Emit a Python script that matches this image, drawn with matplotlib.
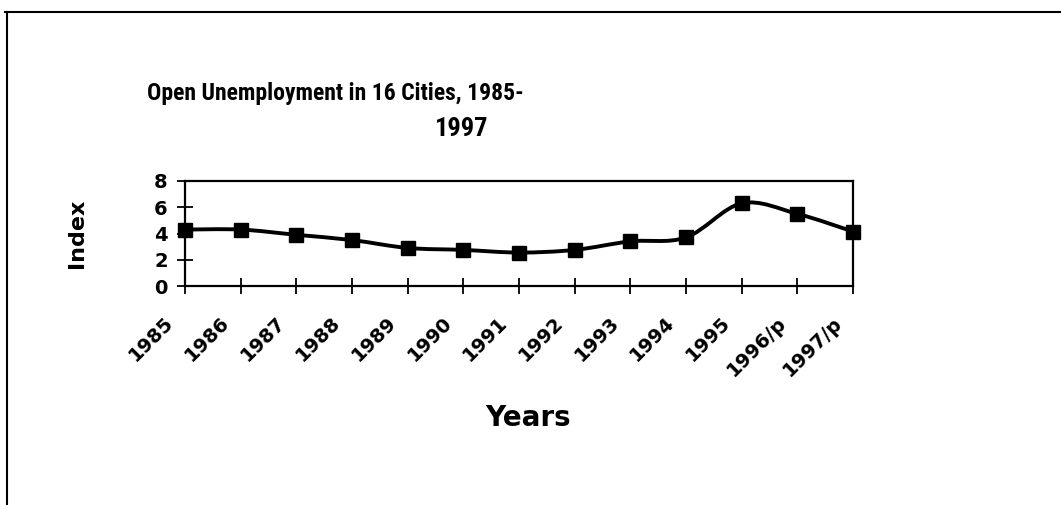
import numpy as np
import matplotlib
matplotlib.use("Agg")
import matplotlib.pyplot as plt
from matplotlib.path import Path
from matplotlib.patches import PathPatch
from matplotlib.lines import Line2D
from matplotlib.transforms import ScaledTranslation

plt.rcParams['font.family'] = ['DejaVu Sans']
plt.rcParams['font.weight'] = 'bold'
TITLE_FONT = ['Roboto Condensed', 'Archivo Narrow', 'Liberation Sans']

years = ["1985", "1986", "1987", "1988", "1989", "1990", "1991",
         "1992", "1993", "1994", "1995", "1996/p", "1997/p"]
index = [4.3, 4.3, 3.9, 3.5, 2.9, 2.75, 2.55, 2.75, 3.4, 3.7, 6.3, 5.5, 4.15]
y_ticks = [0, 2, 4, 6, 8]


def smooth_path(xs, ys):
    """Catmull-Rom through the points, as cubic Bezier segments (like Excel's smoothed line)."""
    pts = np.column_stack([xs, ys]).astype(float)
    padded = np.vstack([pts[0], pts, pts[-1]])
    verts = [pts[0]]
    codes = [Path.MOVETO]
    for i in range(1, len(padded) - 2):
        p0, p1, p2, p3 = padded[i - 1], padded[i], padded[i + 1], padded[i + 2]
        verts += [p1 + (p2 - p0) / 6, p2 - (p3 - p1) / 6, p2]
        codes += [Path.CURVE4] * 3
    return Path(verts, codes)


fig = plt.figure(figsize=(10.61, 5.05), dpi=100)
ax = fig.add_axes([185 / 1061, 1 - 286 / 505, (853 - 185) / 1061, (286 - 181) / 505])

x = np.arange(len(years))
ax.add_patch(PathPatch(smooth_path(x, index), facecolor="none", edgecolor="black",
                       lw=2.8, capstyle="round", joinstyle="round", zorder=3))
ax.plot(x, index, linestyle="none", marker="s", markersize=10, color="black",
        clip_on=False, zorder=4)

ax.set_xlim(0, len(years) - 1)
ax.set_ylim(0, 8)
ax.set_xticks(x)
ax.set_xticklabels(years, rotation=45, ha="right", va="top", rotation_mode="anchor",
                   fontsize=14, fontweight="bold")
ax.set_yticks(y_ticks)
ax.set_yticklabels([str(t) for t in y_ticks], fontsize=14, fontweight="bold")
ax.tick_params(direction="inout", length=11, width=1.3)
ax.tick_params(axis="y", pad=7)
ax.tick_params(axis="x", pad=14)
# nudge the slanted year labels left, as in the original
shift = ScaledTranslation(-0.21, 0, fig.dpi_scale_trans)
for lab in ax.get_xticklabels():
    lab.set_transform(lab.get_transform() + shift)
for s in ax.spines.values():
    s.set_linewidth(1.6)

ax.set_ylabel("Index", fontsize=16, fontweight="bold")
ax.yaxis.set_label_coords(-0.147, 0.5)
ax.set_xlabel("Years", fontsize=20, fontweight="bold")
ax.xaxis.set_label_coords(0.513, -1.12)

fig.text(147 / 1061, 1 - 94 / 505, "Open Unemployment in 16 Cities, 1985-",
         fontsize=17, fontweight="bold", family=TITLE_FONT, ha="left", va="center")
fig.text(462 / 1061, 1 - 129 / 505, "1997", fontsize=19, fontweight="bold",
         family=TITLE_FONT, ha="center", va="center")

# outer chart border (only top and left edges are visible in the scan)
fig.add_artist(Line2D([5 / 1061, 1], [1 - 12 / 505] * 2, color="black", lw=1.5))
fig.add_artist(Line2D([7 / 1061] * 2, [1 - 12 / 505, 0], color="black", lw=1.5))

fig.savefig("out.png", dpi=100)
